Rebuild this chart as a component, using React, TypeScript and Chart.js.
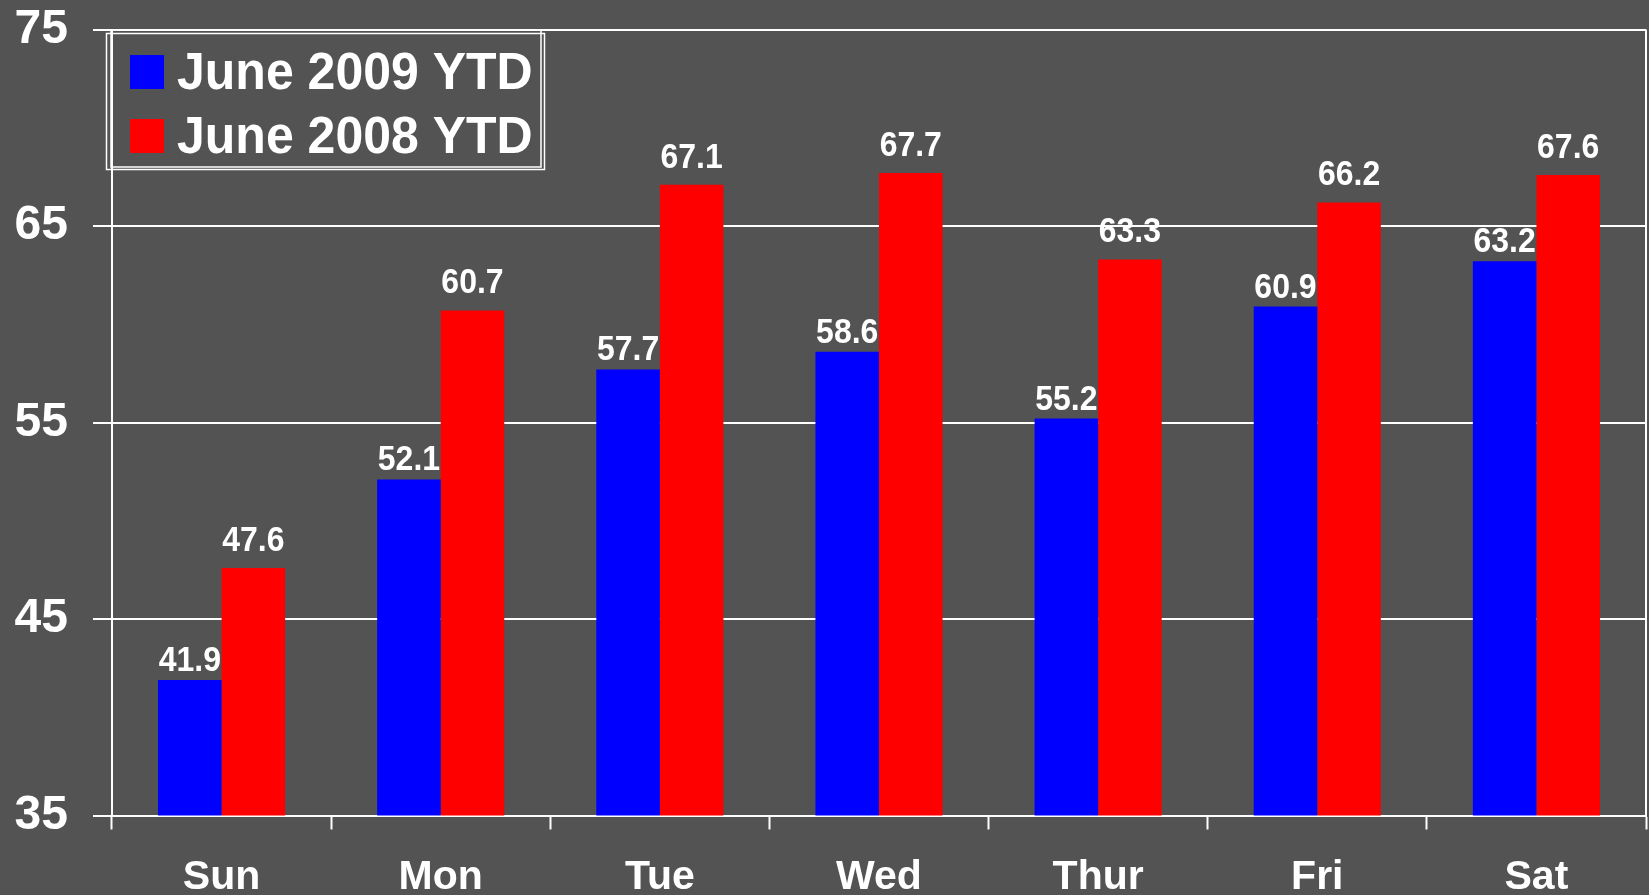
import React, { useEffect, useRef } from "react";
import { Chart, registerables } from "chart.js";

Chart.register(...registerables);

const categories = ["Sun", "Mon", "Tue", "Wed", "Thur", "Fri", "Sat"];
const series2009 = [41.9, 52.1, 57.7, 58.6, 55.2, 60.9, 63.2];
const series2008 = [47.6, 60.7, 67.1, 67.7, 63.3, 66.2, 67.6];
const seriesLabels = ["June 2009 YTD", "June 2008 YTD"];
const seriesColors = ["#0000ff", "#ff0000"];
const yMin = 35;
const yMax = 75;
const yStep = 10;

const FONT = "'Liberation Sans', Arial, Helvetica, sans-serif";
const BG = "#535353";
const WHITE = "#ffffff";

const bgPlugin = {
  id: "bgFill",
  beforeDraw(chart: any) {
    const { ctx, width, height } = chart;
    ctx.save();
    ctx.fillStyle = BG;
    ctx.fillRect(0, 0, width, height);
    ctx.restore();
  },
};

const framePlugin = {
  id: "frameRight",
  afterDatasetsDraw(chart: any) {
    const { ctx, chartArea } = chart;
    ctx.save();
    ctx.strokeStyle = WHITE;
    ctx.lineWidth = 2;
    ctx.beginPath();
    ctx.moveTo(chartArea.right, chartArea.top);
    ctx.lineTo(chartArea.right, chartArea.bottom);
    ctx.stroke();
    ctx.restore();
  },
};

const labelOffsets = [9, 17];

const dataLabelPlugin = {
  id: "dataLabels",
  afterDatasetsDraw(chart: any) {
    const { ctx } = chart;
    ctx.save();
    ctx.fillStyle = WHITE;
    ctx.font = `bold 32px ${FONT}`;
    ctx.textAlign = "center";
    ctx.textBaseline = "alphabetic";
    chart.data.datasets.forEach((ds: any, di: number) => {
      const meta = chart.getDatasetMeta(di);
      meta.data.forEach((el: any, i: number) => {
        const v = ds.data[i];
        const by = el.y - labelOffsets[di];
        ctx.save();
        ctx.translate(el.x, by);
        ctx.scale(1, 1.08);
        ctx.fillText(Number(v).toFixed(1), 0, 0);
        ctx.restore();
      });
    });
    ctx.restore();
  },
};

const legendPlugin = {
  id: "boxLegend",
  afterDraw(chart: any) {
    const { ctx } = chart;
    ctx.save();
    ctx.strokeStyle = WHITE;
    ctx.lineWidth = 1.5;
    ctx.strokeRect(106.5, 33.5, 438, 136);
    ctx.strokeRect(111, 30, 430, 137);
    ctx.font = `bold 50px ${FONT}`;
    ctx.textAlign = "left";
    ctx.textBaseline = "alphabetic";
    chart.data.datasets.forEach((ds: any, i: number) => {
      const top = 55 + i * 64;
      ctx.fillStyle = ds.backgroundColor;
      ctx.fillRect(130, top, 34, 34);
      ctx.fillStyle = WHITE;
      ctx.save();
      ctx.translate(177, top + 34);
      ctx.scale(1, 1.02);
      ctx.fillText(ds.label, 0, 0);
      ctx.restore();
    });
    ctx.restore();
  },
};

export default function App() {
  const ref = useRef<HTMLCanvasElement | null>(null);

  useEffect(() => {
    document.body.style.margin = "0";
    document.body.style.background = BG;
    const canvas = ref.current;
    if (!canvas) return;
    const chart = new Chart(canvas, {
      type: "bar",
      data: {
        labels: categories,
        datasets: [
          {
            label: seriesLabels[0],
            data: series2009,
            backgroundColor: seriesColors[0],
            borderWidth: 0,
            categoryPercentage: 0.58,
            barPercentage: 1.0,
          },
          {
            label: seriesLabels[1],
            data: series2008,
            backgroundColor: seriesColors[1],
            borderWidth: 0,
            categoryPercentage: 0.58,
            barPercentage: 1.0,
          },
        ],
      },
      options: {
        responsive: false,
        animation: false,
        devicePixelRatio: 1,
        layout: { padding: { left: 0, right: 3, top: 29.5, bottom: 0 } },
        plugins: {
          legend: { display: false },
          tooltip: { enabled: false },
          title: { display: false },
        },
        scales: {
          x: {
            offset: true,
            grid: {
              offset: true,
              drawOnChartArea: false,
              drawTicks: true,
              tickLength: 14,
              tickWidth: 2,
              tickColor: WHITE,
              color: WHITE,
            },
            border: { display: true, color: WHITE, width: 2 },
            ticks: {
              color: WHITE,
              font: { family: FONT, size: 41, weight: "bold" },
              padding: 24,
              maxRotation: 0,
              autoSkip: false,
            },
            afterFit(scale: any) {
              scale.height = 79.5;
              scale.paddingLeft = 0;
              scale.paddingRight = 0;
            },
          },
          y: {
            min: yMin,
            max: yMax,
            grid: {
              color: WHITE,
              lineWidth: 2,
              tickLength: 19,
              drawTicks: true,
              tickColor: WHITE,
            },
            border: { display: true, color: WHITE, width: 2 },
            ticks: {
              stepSize: yStep,
              color: WHITE,
              font: { family: FONT, size: 48, weight: "bold" },
              padding: 25,
            },
            afterFit(scale: any) {
              scale.width = 112;
              scale.paddingTop = 0;
              scale.paddingBottom = 0;
            },
          },
        },
      },
      plugins: [bgPlugin, framePlugin, dataLabelPlugin, legendPlugin],
    });
    return () => chart.destroy();
  }, []);

  return (
    <div style={{ position: "absolute", left: 0, top: 0, width: 1649, height: 895, background: BG }}>
      <canvas ref={ref} width={1649} height={895} style={{ display: "block", width: 1649, height: 895 }} />
    </div>
  );
}
